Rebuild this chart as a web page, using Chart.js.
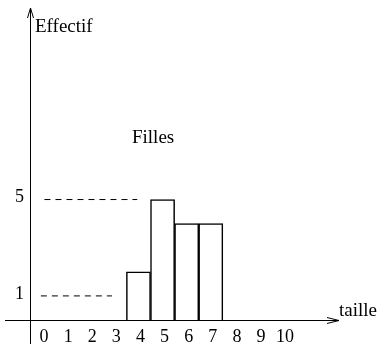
<!DOCTYPE html>
<html>
<head>
<meta charset="utf-8">
<script src="https://cdn.jsdelivr.net/npm/chart.js@4/dist/chart.umd.min.js"></script>
<style>
  html, body { margin: 0; padding: 0; background: #fff; }
  #wrap { width: 380px; height: 351px; }
</style>
</head>
<body>
<div id="wrap"><canvas id="histo"></canvas></div>
<script>
// ===== Data =====
const tailles = [4, 5, 6, 7];
const effectifs = [2, 5, 4, 4];
const xTicks = [0, 1, 2, 3, 4, 5, 6, 7, 8, 9, 10];
const yTicks = [1, 5];
// dashed guide lines: level, start, end (in axis units)
const guideLevels = [5, 1];
const guideFrom = [0.1, -0.05];
const guideTo = [3.95, 2.9];

const serif = '"Liberation Serif", "DejaVu Serif", serif';

// ===== Axes with arrows + free labels =====
const axesPlugin = {
  id: 'axes',
  afterDraw(chart) {
    const { ctx, chartArea: a, scales } = chart;
    const x0 = a.left + 0.5;
    const y0 = Math.round(scales.y.getPixelForValue(0)) + 0.5;
    ctx.save();
    ctx.strokeStyle = '#000';
    ctx.lineWidth = 1;
    ctx.beginPath();
    // vertical axis
    ctx.moveTo(x0, 344);
    ctx.lineTo(x0, a.top);
    ctx.moveTo(x0 - 3, a.top + 10);
    ctx.lineTo(x0, a.top);
    ctx.lineTo(x0 + 3, a.top + 10);
    // horizontal axis
    ctx.moveTo(5, y0);
    ctx.lineTo(a.right, y0);
    ctx.moveTo(a.right - 12, y0 - 3);
    ctx.lineTo(a.right, y0);
    ctx.lineTo(a.right - 12, y0 + 3);
    ctx.stroke();

    ctx.fillStyle = '#000';
    ctx.font = '19px ' + serif;
    ctx.textBaseline = 'alphabetic';
    ctx.textAlign = 'left';
    ctx.fillText('Effectif', 35, 32);
    ctx.fillText('Filles', 132, 143);
    ctx.fillText('taille', 339, 316);
    ctx.restore();
  }
};

const guideSets = guideLevels.map((lv, i) => ({
  type: 'line',
  data: [{ x: guideFrom[i], y: lv }, { x: guideTo[i], y: lv }],
  borderColor: '#000',
  borderWidth: 1,
  borderDash: [6, 5],
  pointRadius: 0,
  fill: false,
}));

new Chart(document.getElementById('histo'), {
  type: 'bar',
  data: {
    datasets: [{
      type: 'bar',
      data: tailles.map((t, i) => ({ x: t, y: effectifs[i] })),
      backgroundColor: '#fff',
      borderColor: '#000',
      borderWidth: 1.5,
      borderSkipped: 'bottom',
      barPercentage: 1,
      categoryPercentage: 1,
    }, ...guideSets]
  },
  options: {
    responsive: true,
    maintainAspectRatio: false,
    animation: false,
    layout: { padding: { left: 0, right: 41, top: 8, bottom: 0 } },
    plugins: { legend: { display: false }, tooltip: { enabled: false } },
    scales: {
      x: {
        type: 'linear',
        offset: false,
        min: -0.5,
        max: 12.32,
        grid: { display: false, drawTicks: false, offset: false },
        border: { display: false },
        afterBuildTicks: s => { s.ticks = xTicks.map(v => ({ value: v })); },
        afterFit: s => { s.height = 31; s.paddingLeft = 0; s.paddingRight = 0; },
        ticks: {
          color: '#000',
          font: { family: serif, size: 18 },
          padding: 6,
          labelOffset: 2,
          maxRotation: 0,
          autoSkip: false,
        }
      },
      y: {
        min: 0,
        max: 12.95,
        grid: { display: false, drawTicks: false },
        border: { display: false },
        afterBuildTicks: s => { s.ticks = yTicks.map(v => ({ value: v })); },
        afterFit: s => { s.width = 30; s.paddingTop = 0; s.paddingBottom = 0; },
        ticks: {
          color: '#000',
          font: { family: serif, size: 18 },
          padding: 6,
          labelOffset: -2,
        }
      }
    }
  },
  plugins: [axesPlugin]
});
</script>
</body>
</html>
